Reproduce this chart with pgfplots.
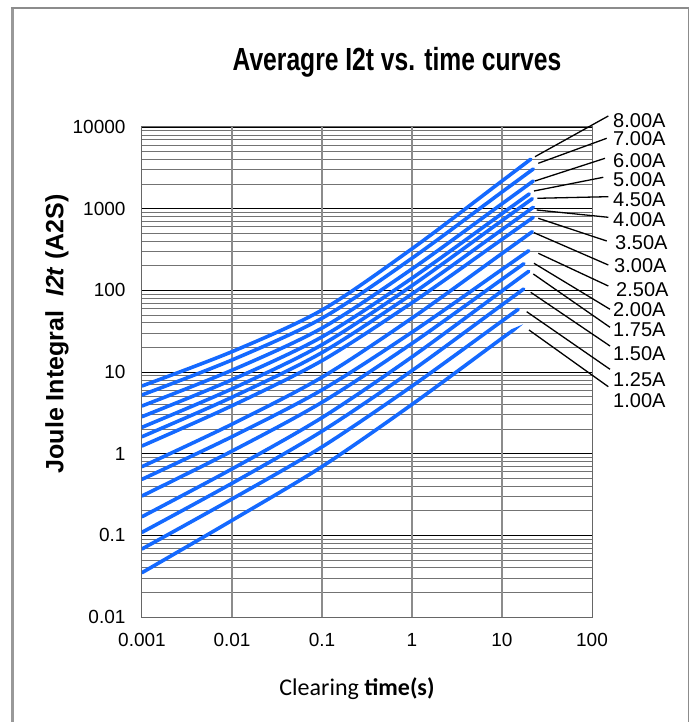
\documentclass[border=0pt]{standalone}
\usepackage{pgfplots}
\pgfplotsset{compat=1.18}
\usepackage{fontspec}
\setmainfont{Liberation Sans}
\newfontfamily\titlefont[FakeStretch=0.77]{Liberation Sans}
\newfontfamily\calfont{Carlito}
\definecolor{curveblue}{RGB}{20,105,255}
\pgfplotsset{fuse/.style={curveblue, line width=3.6pt, line cap=round, smooth, no marks}}
\begin{document}
\begin{tikzpicture}[x=1pt,y=1pt]
\path[use as bounding box] (-142,-105) rectangle (551,617);
% frame
\draw[black!40, line width=3pt] (-129.5,-105) -- (-129.5,609);
\draw[black!45, line width=1.5pt] (-131,609) -- (546.5,609) -- (546.5,-105);
\begin{axis}[
  at={(0pt,0pt)}, anchor=south west, scale only axis,
  width=450pt, height=490pt,
  xmode=log, ymode=log,
  xmin=0.001, xmax=100, ymin=0.01, ymax=10000,
  xtick={0.001,0.01,0.1,1,10,100},
  xticklabels={\mbox{0.001},\mbox{0.01},\mbox{0.1},\mbox{1},\mbox{10},\mbox{100}},
  ytick={0.01,0.1,1,10,100,1000,10000},
  yticklabels={\mbox{0.01},\mbox{0.1},\mbox{1},\mbox{10},\mbox{100},\mbox{1000},\mbox{10000}},
  major tick length=0pt, minor tick length=0pt,
  ymajorgrids, yminorgrids, xmajorgrids=false,
  major grid style={black, line width=0.9pt},
  minor grid style={black!55, line width=0.8pt},
  axis line style={black!60, line width=1pt},
  tick label style={font=\fontsize{19}{21}\selectfont},
  yticklabel style={xshift=-13pt},
  xticklabel style={yshift=-13pt},
]
\draw[black!45, line width=1.2pt] (axis cs:0.01,0.01) -- (axis cs:0.01,10000);
\draw[black!45, line width=1.2pt] (axis cs:0.1,0.01) -- (axis cs:0.1,10000);
\draw[black!45, line width=1.2pt] (axis cs:1,0.01) -- (axis cs:1,10000);
\draw[black!45, line width=1.2pt] (axis cs:10,0.01) -- (axis cs:10,10000);
% 8.00A
\addplot[fuse] coordinates {(0.001,6.745) (0.01,17.74) (0.1,57.41) (1,322.8) (10,2183) (20.84,4027)};
% 7.00A
\addplot[fuse] coordinates {(0.001,5.236) (0.01,14.03) (0.1,45.50) (1,247.2) (10,1600) (22.28,3062)};
% 6.00A
\addplot[fuse] coordinates {(0.001,3.837) (0.01,10.52) (0.1,34.51) (1,182.8) (10,1148) (22.28,2183)};
% 5.00A
\addplot[fuse] coordinates {(0.001,2.838) (0.01,8.035) (0.1,26.92) (1,140.9) (10,871) (20.09,1514)};
% 4.50A
\addplot[fuse] coordinates {(0.001,2.104) (0.01,6.223) (0.1,21.58) (1,114.3) (10,714.5) (21.73,1324)};
% 4.00A
\addplot[fuse] coordinates {(0.001,1.614) (0.01,4.909) (0.1,17.30) (1,90.36) (10,553.4) (22.28,1040)};
% 3.50A
\addplot[fuse] coordinates {(0.001,1.242) (0.01,3.864) (0.1,13.77) (1,70.47) (10,420.7) (22.28,783.4)};
% 3.00A
\addplot[fuse] coordinates {(0.001,0.6934) (0.01,2.296) (0.1,8.630) (1,45.71) (10,282.5) (21.73,522.4)};
% 2.50A
\addplot[fuse] coordinates {(0.001,0.4853) (0.01,1.614) (0.1,6.039) (1,30.69) (10,180.3) (19.82,305.5)};
% 2.00A
\addplot[fuse] coordinates {(0.001,0.3034) (0.01,1.076) (0.1,4.256) (1,22.39) (10,136.5) (17.54,211.8)};
% 1.75A
\addplot[fuse] coordinates {(0.001,0.1690) (0.01,0.6501) (0.1,2.761) (1,15.31) (10,98.4) (19.82,171.0)};
% 1.50A
\addplot[fuse] coordinates {(0.001,0.1089) (0.01,0.4335) (0.1,1.884) (1,10.40) (10,66.37) (17.42,103.8)};
% 1.25A
\addplot[fuse] coordinates {(0.001,0.0681) (0.01,0.2786) (0.1,1.210) (1,6.714) (10,42.07) (15.17,58.61)};
% 1.00A
\addplot[fuse] coordinates {(0.001,0.0349) (0.01,0.1524) (0.1,0.6950) (1,4.009) (10,25.88) (13.00,31.77)};
\end{axis}
% title and axis labels
\node[font=\titlefont\bfseries\fontsize{32}{36}\selectfont] at (255,555) {Averagre I2t vs. time curves};
\node[font=\calfont\fontsize{24}{27}\selectfont] at (215,-72) {Clearing \textbf{time(s)}};
\node[rotate=90, font=\bfseries\fontsize{25}{29}\selectfont] at (-85,283) {Joule Integral\ \ \textit{I2t} (A2S)};
% leader lines
\begin{scope}[black, line width=1.3pt]
\draw (393,460.3) -- (466.3,501);
\draw (396.3,453.7) -- (464.7,478.7);
\draw (393,436) -- (463,458.7);
\draw (392,426) -- (461.3,439.7);
\draw (395.3,418.7) -- (466.3,420.3);
\draw (394.7,407) -- (466.3,399.7);
\draw (396.3,398.7) -- (464.7,376);
\draw (392,384.3) -- (466.3,352);
\draw (396.3,363.7) -- (466.3,331);
\draw (392,353.7) -- (468,307.7);
\draw (391.3,343) -- (468,289.7);
\draw (388.7,324.7) -- (468,271);
\draw (384.7,305.3) -- (468,247.7);
\draw (387,287) -- (466.3,230.3);
\end{scope}
\begin{scope}[every node/.style={anchor=west, inner sep=0pt, font=\fontsize{20}{22}\selectfont}]
\node at (471,496.3) {8.00A};
\node at (471,478) {7.00A};
\node at (471,456.3) {6.00A};
\node at (471,437.7) {5.00A};
\node at (471,417.7) {4.50A};
\node at (471,397.7) {4.00A};
\node at (473,374.7) {3.50A};
\node at (472,351) {3.00A};
\node at (474,327.7) {2.50A};
\node at (471,307.7) {2.00A};
\node at (471,287.7) {1.75A};
\node at (471,263) {1.50A};
\node at (471,237.7) {1.25A};
\node at (471,216.3) {1.00A};
\end{scope}
\end{tikzpicture}
\end{document}
